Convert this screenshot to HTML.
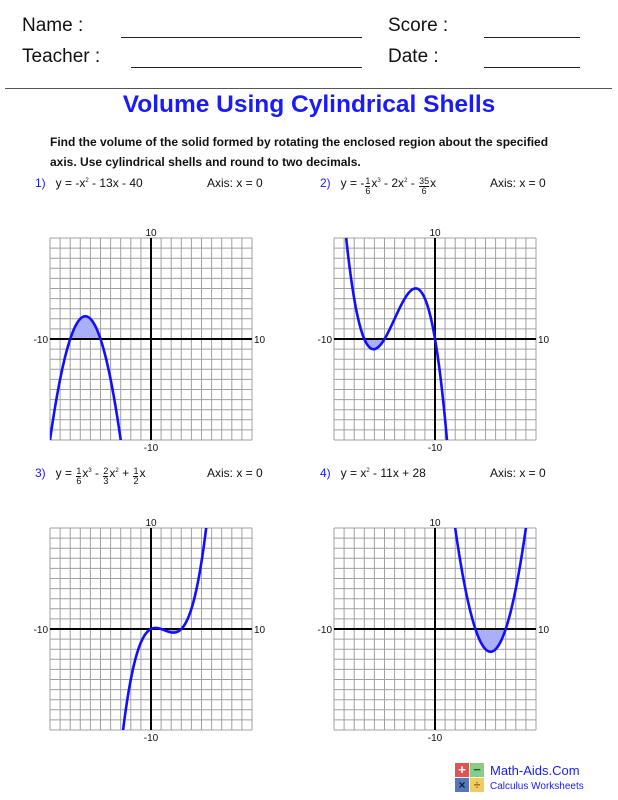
<!DOCTYPE html>
<html><head><meta charset="utf-8"><style>
body{margin:0;width:618px;height:800px;background:#fff;position:relative;font-family:"Liberation Sans",Arial,sans-serif;overflow:hidden}
.a{position:absolute;white-space:nowrap}
.h{font-size:19px;color:#111}
.ln{position:absolute;height:0;border-top:1.3px solid #222}
.eq{font-size:12px;color:#111;line-height:14px}
.n{color:#1a1aff}
.fr{display:inline-block;vertical-align:-7px;text-align:center;font-size:9px;line-height:9px;margin:0 1px}
.fr span{display:block}
.fr span:first-child{border-bottom:1px solid #111}
sup{font-size:6px;line-height:0}
</style></head><body>
<div class="a h" style="left:22px;top:15px">Name :</div>
<div class="ln" style="left:121px;top:37px;width:241px"></div>
<div class="a h" style="left:388px;top:15px">Score :</div>
<div class="ln" style="left:484px;top:37px;width:96px"></div>
<div class="a h" style="left:22px;top:46px">Teacher :</div>
<div class="ln" style="left:131px;top:67px;width:231px"></div>
<div class="a h" style="left:388px;top:46px">Date :</div>
<div class="ln" style="left:484px;top:67px;width:96px"></div>
<div class="ln" style="left:5px;top:88px;width:607px;border-top-color:#555"></div>
<div class="a" style="left:0;width:618px;text-align:center;top:91px;font-size:24.5px;font-weight:bold;color:#1a1aff">Volume Using Cylindrical Shells</div>
<div class="a" style="left:50px;top:132px;font-size:12px;font-weight:bold;color:#111;line-height:20px">Find the volume of the solid formed by rotating the enclosed region about the specified<br>axis. Use cylindrical shells and round to two decimals.</div>

<div class="a eq" style="left:35px;top:176px"><span class="n">1)</span>&nbsp;&nbsp; y = -x<sup>2</sup> - 13x - 40</div>
<div class="a eq" style="left:207px;top:176px">Axis: x = 0</div>
<div class="a eq" style="left:320px;top:176px"><span class="n">2)</span>&nbsp;&nbsp; y = -<span class="fr"><span>1</span><span>6</span></span>x<sup>3</sup> - 2x<sup>2</sup> - <span class="fr"><span>35</span><span>6</span></span>x</div>
<div class="a eq" style="left:490px;top:176px">Axis: x = 0</div>

<div class="a eq" style="left:35px;top:466px"><span class="n">3)</span>&nbsp;&nbsp; y = <span class="fr"><span>1</span><span>6</span></span>x<sup>3</sup> - <span class="fr"><span>2</span><span>3</span></span>x<sup>2</sup> + <span class="fr"><span>1</span><span>2</span></span>x</div>
<div class="a eq" style="left:207px;top:466px">Axis: x = 0</div>
<div class="a eq" style="left:320px;top:466px"><span class="n">4)</span>&nbsp;&nbsp; y = x<sup>2</sup> - 11x + 28</div>
<div class="a eq" style="left:490px;top:466px">Axis: x = 0</div>

<svg id="s" width="618" height="800" style="position:absolute;left:0;top:0"></svg>

<div class="a" style="left:455px;top:763px;width:30px;height:30px">
<div style="position:absolute;left:0;top:0;width:14px;height:14px;background:#d55;color:#fff;font:bold 13px/14px 'Liberation Sans';text-align:center">+</div>
<div style="position:absolute;left:15px;top:0;width:14px;height:14px;background:#8c8;color:#163;font:bold 13px/14px 'Liberation Sans';text-align:center">−</div>
<div style="position:absolute;left:0;top:15px;width:14px;height:14px;background:#57b;color:#123;font:bold 12px/14px 'Liberation Sans';text-align:center">×</div>
<div style="position:absolute;left:15px;top:15px;width:14px;height:14px;background:#ec6;color:#a60;font:bold 12px/14px 'Liberation Sans';text-align:center">÷</div>
</div>
<div class="a" style="left:490px;top:763px;font-size:13px;color:#1a1aff">Math-Aids.Com</div>
<div class="a" style="left:490px;top:781px;font-size:10px;color:#1a1aff">Calculus Worksheets</div>

<script>
var s=document.getElementById('s'),o='';
var G=[[50,238,function(x){return -x*x-13*x-40},-8,-5],
[334,238,function(x){return -x*x*x/6-2*x*x-35*x/6},-7,-5],
[50,528,function(x){return x*x*x/6-2*x*x/3+x/2},1,3],
[334,528,function(x){return x*x-11*x+28},4,7]];
var W=202,u=W/20;
G.forEach(function(g,i){
var L=g[0],T=g[1],cx=L+W/2,cy=T+W/2;
o+='<clipPath id="c'+i+'"><rect x="'+L+'" y="'+T+'" width="'+W+'" height="'+W+'"/></clipPath>';
for(var k=0;k<=20;k++){var p=(L+k*u).toFixed(2),q=(T+k*u).toFixed(2);
o+='<line x1="'+p+'" y1="'+T+'" x2="'+p+'" y2="'+(T+W)+'" stroke="#a0a0a0" stroke-width="1"/>';
o+='<line x1="'+L+'" y1="'+q+'" x2="'+(L+W)+'" y2="'+q+'" stroke="#a0a0a0" stroke-width="1"/>';}
var f='M'+(cx+g[3]*u)+' '+cy;
for(var x=g[3];x<=g[4]+1e-9;x+=0.02){f+=' L'+(cx+x*u).toFixed(2)+' '+(cy-g[2](x)*u).toFixed(2);}
f+=' Z';o+='<path d="'+f+'" fill="#aab0f8"/>';
o+='<line x1="'+cx+'" y1="'+T+'" x2="'+cx+'" y2="'+(T+W)+'" stroke="#000" stroke-width="2"/>';
o+='<line x1="'+L+'" y1="'+cy+'" x2="'+(L+W)+'" y2="'+cy+'" stroke="#000" stroke-width="2"/>';
var d='';for(var x=-10;x<=10;x+=0.02){var y=g[2](x);if(y>14)y=14;if(y<-14)y=-14;d+=(d?' L':'M')+(cx+x*u).toFixed(2)+' '+(cy-y*u).toFixed(2);}
o+='<path d="'+d+'" fill="none" stroke="#1010ff" stroke-width="2.6" clip-path="url(#c'+i+')"/>';
var ts='font-family="Liberation Sans,Arial,sans-serif" font-size="10" fill="#111"';
o+='<text x="'+cx+'" y="'+(T-2)+'" text-anchor="middle" '+ts+'>10</text>';
o+='<text x="'+cx+'" y="'+(T+W+11)+'" text-anchor="middle" '+ts+'>-10</text>';
o+='<text x="'+(L-2)+'" y="'+(cy+4)+'" text-anchor="end" '+ts+'>-10</text>';
o+='<text x="'+(L+W+2)+'" y="'+(cy+4)+'" '+ts+'>10</text>';
});
s.innerHTML=o;
</script>
</body></html>
